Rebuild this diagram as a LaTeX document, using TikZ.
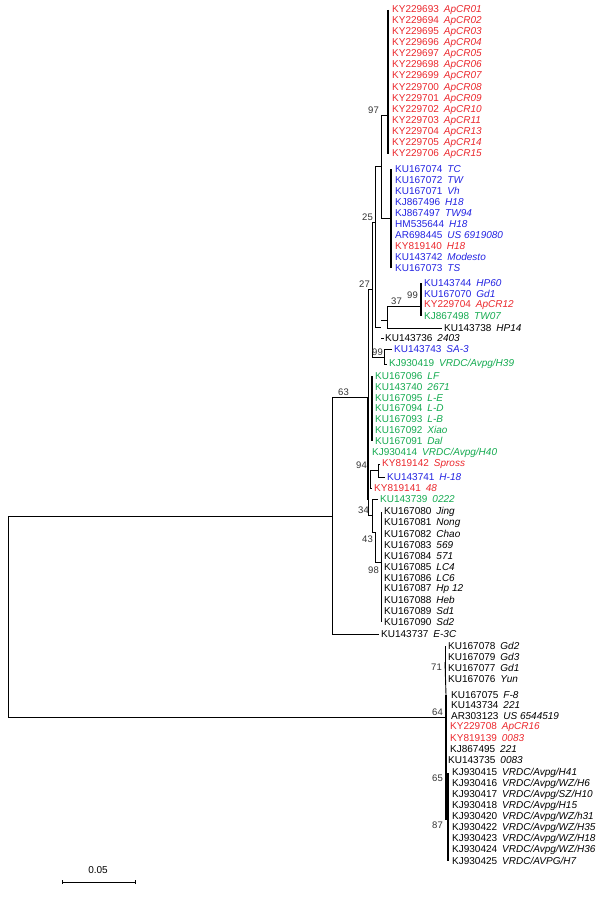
\documentclass[tikz,border=0pt]{standalone}
\usepackage{fontspec}
\setmainfont{Liberation Sans}
\usepackage{xcolor}
\definecolor{treered}{RGB}{235,40,45}
\definecolor{treeblue}{RGB}{35,35,225}
\definecolor{treegreen}{RGB}{20,170,80}

\tikzset{
  branch/.style={line width=0.9pt},
  zerob/.style={line width=2.2pt},
  leaflabel/.style={anchor=west,inner sep=0pt,font=\fontsize{10}{10}\selectfont},
  support/.style={anchor=south east,inner sep=1pt,font=\fontsize{9.5}{10}\selectfont,text=black!80}
}
% leaf: x, y, accession, name, colour
\newcommand{\Leaf}[5]{\node[leaflabel,text=#5] at (#1,#2) {#3\hspace{5pt}\textit{#4}};}

\begin{document}
\begin{tikzpicture}[x=1pt,y=-1pt]
  \useasboundingbox (0,0) rectangle (600,899);
  % root
  \draw[branch] (332,516) -- (8,516) -- (8,717) -- (446,717);
  % node 63
  \draw[branch] (368,397) -- (332,397) -- (332,634) -- (379,634);
  \node[support] at (350,397) {63};
  \Leaf{381}{634}{KU143737}{E-3C}{black}
  % node A
  \draw[branch] (372,289) -- (368,289) -- (368,515) -- (372,515);
  % node 27
  \draw[branch] (375,222) -- (372,222) -- (372,357) -- (384,357);
  \node[support] at (371,289) {27};
  % node 25
  \draw[branch] (381,166) -- (375,166) -- (375,327) -- (381,327);
  \node[support] at (374,222) {25};
  % node 97
  \draw[branch] (388,115) -- (381,115) -- (381,218) -- (391,218);
  \node[support] at (380,115) {97};
  \draw[zerob] (388,10) -- (388,154);
  \foreach \yy/\acc/\nm in {0/KY229693/ApCR01,1/KY229694/ApCR02,2/KY229695/ApCR03,3/KY229696/ApCR04,
    4/KY229697/ApCR05,5/KY229698/ApCR06,6/KY229699/ApCR07,7/KY229700/ApCR08,8/KY229701/ApCR09,
    9/KY229702/ApCR10,10/KY229703/ApCR11,11/KY229704/ApCR13,12/KY229705/ApCR14,13/KY229706/ApCR15}
    {\Leaf{392}{10+11.08*\yy}{\acc}{\nm}{treered}}
  \draw[zerob] (391,169) -- (391,268);
  \foreach \yy/\acc/\nm/\cl in {0/KU167074/TC/treeblue,1/KU167072/TW/treeblue,2/KU167071/Vh/treeblue,
    3/KJ867496/H18/treeblue,4/KJ867497/TW94/treeblue,5/HM535644/H18/treeblue,6/AR698445/US 6919080/treeblue,
    7/KY819140/H18/treered,8/KU143742/Modesto/treeblue,9/KU167073/TS/treeblue}
    {\Leaf{395}{169+11*\yy}{\acc}{\nm}{\cl}}
  % node B and 37
  \draw[branch] (381,338) -- (384,338);
  \Leaf{385}{338}{KU143736}{2403}{black}
  \draw[branch] (381,320) -- (387,320);
  \draw[branch] (420,306) -- (387,306) -- (387,328) -- (442,328);
  \node[support] at (403,306) {37};
  \Leaf{444}{328}{KU143738}{HP14}{black}
  \draw[zerob] (421,283) -- (421,316);
  \node[support] at (419,300) {99};
  \Leaf{424}{283}{KU143744}{HP60}{treeblue}
  \Leaf{424}{294}{KU167070}{Gd1}{treeblue}
  \Leaf{424}{305}{KY229704}{ApCR12}{treered}
  \Leaf{424}{316}{KJ867498}{TW07}{treegreen}
  % node 99 (SA-3)
  \draw[branch] (392,349) -- (384,349) -- (384,364) -- (387,364);
  \node[support] at (384,357) {99};
  \Leaf{394}{349}{KU143743}{SA-3}{treeblue}
  \Leaf{389}{364}{KJ930419}{VRDC/Avpg/H39}{treegreen}
  % green group
  \draw[zerob] (372,376) -- (372,441);
  \foreach \yy/\acc/\nm in {0/KU167096/LF,1/KU143740/2671,2/KU167095/L-E,3/KU167094/L-D,
    4/KU167093/L-B,5/KU167092/Xiao,6/KU167091/Dal}
    {\Leaf{375}{376+10.83*\yy}{\acc}{\nm}{treegreen}}
  \draw[zerob] (368,397) -- (368,500);
  \Leaf{372}{453}{KJ930414}{VRDC/Avpg/H40}{treegreen}
  % node 94
  \draw[branch] (378,470) -- (370,470) -- (370,488) -- (372,488);
  \node[support] at (368,470) {94};
  \draw[branch] (380,464) -- (378,464) -- (378,477) -- (385,477);
  \Leaf{382}{464}{KY819142}{Spross}{treered}
  \Leaf{387}{477}{KU143741}{H-18}{treeblue}
  \Leaf{374}{488}{KY819141}{48}{treered}
  % node 34 and 43
  \draw[branch] (378,499) -- (372,499) -- (372,532) -- (375,532);
  \node[support] at (370,515) {34};
  \Leaf{380}{499}{KU143739}{0222}{treegreen}
  \draw[branch] (375,532) -- (375,562) -- (381,562);
  \node[support] at (374,544) {43};
  % node 98
  \draw[branch] (381,512) -- (381,622);
  \node[support] at (380,575) {98};
  \foreach \yy/\acc/\nm in {0/KU167080/Jing,1/KU167081/Nong,2/KU167082/Chao,3/KU167083/569,
    4/KU167084/571,5/KU167085/LC4,6/KU167086/LC6,7/KU167087/Hp 12,8/KU167088/Heb,
    9/KU167089/Sd1,10/KU167090/Sd2}
    {\Leaf{384}{512+11*\yy}{\acc}{\nm}{black}}
  % lower clade, node 64
  \draw[zerob] (446,695) -- (446,820);
  \node[support] at (444,717) {64};
  \draw[branch] (445,646) -- (445,679);
  \draw[branch] (445,662) -- (446,695);
  \node[support] at (443,672) {71};
  \foreach \yy/\acc/\nm in {0/KU167078/Gd2,1/KU167079/Gd3,2/KU167077/Gd1,3/KU167076/Yun}
    {\Leaf{448}{646+11*\yy}{\acc}{\nm}{black}}
  \Leaf{451}{695}{KU167075}{F-8}{black}
  \Leaf{451}{705}{KU143734}{221}{black}
  \Leaf{451}{716}{AR303123}{US 6544519}{black}
  \Leaf{450}{727}{KY229708}{ApCR16}{treered}
  \Leaf{450}{738}{KY819139}{0083}{treered}
  \Leaf{450}{749}{KJ867495}{221}{black}
  \Leaf{448}{760}{KU143735}{0083}{black}
  \draw[zerob] (448,773) -- (448,861);
  \node[support] at (444,783) {65};
  \node[support] at (444,830) {87};
  \foreach \yy/\acc/\nm in {0/KJ930415/{VRDC/Avpg/H41},1/KJ930416/{VRDC/Avpg/WZ/H6},2/KJ930417/{VRDC/Avpg/SZ/H10},
    3/KJ930418/{VRDC/Avpg/H15},4/KJ930420/{VRDC/Avpg/WZ/h31},5/KJ930422/{VRDC/Avpg/WZ/H35},
    6/KJ930423/{VRDC/Avpg/WZ/H18},7/KJ930424/{VRDC/Avpg/WZ/H36},8/KJ930425/{VRDC/AVPG/H7}}
    {\Leaf{452}{773+11*\yy}{\acc}{\nm}{black}}
  % scale bar
  \coordinate (sbl) at (62,882);
  \coordinate (sbr) at (135,882);
  \draw[branch] (sbl) -- (sbr);
  \draw[line width=0.6pt] ([yshift=-2pt]sbl) -- ([yshift=2pt]sbl) ([yshift=-2pt]sbr) -- ([yshift=2pt]sbr);
  \node[anchor=south,font=\fontsize{10}{10}\selectfont] (sblab) at (98,877) {0.05};
\end{tikzpicture}
\end{document}
